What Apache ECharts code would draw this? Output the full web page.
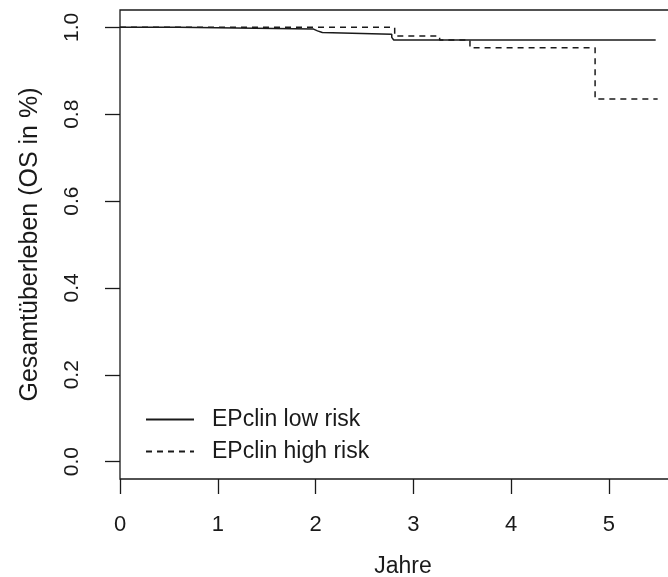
<!DOCTYPE html>
<html>
<head>
<meta charset="utf-8">
<script src="https://cdn.jsdelivr.net/npm/echarts@6/dist/echarts.min.js"></script>
<style>
  html, body { margin: 0; padding: 0; background: #fff; }
  #chart { width: 668px; height: 577px; }
</style>
</head>
<body>
<div id="chart"></div>
<script>
// Kaplan-Meier overall survival by EPclin risk group (years, survival probability)
const seriesNames = ['EPclin low risk', 'EPclin high risk'];
const lowRiskTimes = [0, 0.59, 1.98, 2.02, 2.07, 2.78, 2.80, 5.48];
const lowRiskSurv  = [1.0, 0.996, 0.992, 0.988, 0.984, 0.977, 0.971, 0.971];
const highRiskTimes = [0, 2.81, 3.27, 3.58, 4.86, 5.50];
const highRiskSurv  = [1.0, 0.980, 0.971, 0.953, 0.835, 0.835];
const xTicks = [0, 1, 2, 3, 4, 5];
const yTicks = [0.0, 0.2, 0.4, 0.6, 0.8, 1.0];

const pairs = (xs, ys) => xs.map((x, i) => [x, ys[i]]);
const font = 'Liberation Sans, Arial, Helvetica, sans-serif';
const ink = '#1a1a1a';

const chart = echarts.init(document.getElementById('chart'), null, { renderer: 'canvas' });
chart.setOption({
  animation: false,
  backgroundColor: '#fff',
  textStyle: { fontFamily: font },
  // plot panel runs past the right edge of the canvas
  grid: {
    left: 120, top: 10, width: 566, bottom: 98,
    outerBoundsMode: 'none',
    containLabel: false,
    show: true, borderColor: ink, borderWidth: 1.3
  },
  legend: {
    orient: 'vertical',
    left: 140, top: 403,
    itemWidth: 48, itemHeight: 16, itemGap: 9,
    itemStyle: { opacity: 0 },
    textStyle: { fontSize: 23, color: ink, fontFamily: font, padding: [0, 0, 0, 13] },
    data: seriesNames
  },
  xAxis: {
    type: 'value', min: 0, max: 5.79,
    name: 'Jahre', nameLocation: 'middle', nameGap: 76,
    nameTextStyle: { fontSize: 23, color: ink },
    axisLine: { show: false, onZero: false },
    splitLine: { show: false },
    axisTick: { show: true, inside: false, length: 15, lineStyle: { color: ink, width: 1.3 }, customValues: xTicks },
    axisLabel: { fontSize: 22, color: ink, margin: 35, customValues: xTicks, formatter: v => String(v) }
  },
  yAxis: {
    type: 'value', min: -0.04, max: 1.04,
    name: 'Gesamtüberleben (OS in %)', nameLocation: 'middle', nameGap: 77,
    nameTextStyle: { fontSize: 25, color: ink },
    axisLine: { show: false, onZero: false },
    splitLine: { show: false },
    axisTick: { show: true, inside: false, length: 15, lineStyle: { color: ink, width: 1.3 }, customValues: yTicks },
    axisLabel: { fontSize: 21, color: ink, margin: 37, rotate: 90, customValues: yTicks, formatter: v => v.toFixed(1) }
  },
  series: [
    {
      name: seriesNames[0], type: 'line', step: 'end', symbol: 'none',
      data: pairs(lowRiskTimes, lowRiskSurv),
      lineStyle: { color: ink, width: 1.5, type: 'solid' },
      itemStyle: { color: ink }
    },
    {
      name: seriesNames[1], type: 'line', step: 'end', symbol: 'none',
      data: pairs(highRiskTimes, highRiskSurv),
      lineStyle: { color: ink, width: 1.5, type: [6, 5] },
      itemStyle: { color: ink }
    }
  ]
});
</script>
</body>
</html>
